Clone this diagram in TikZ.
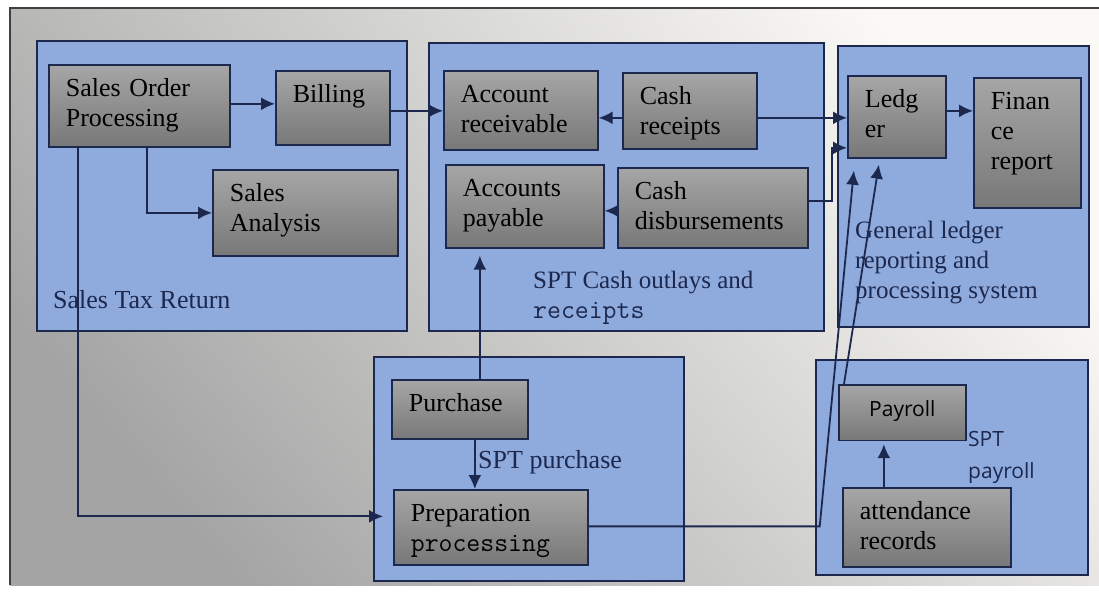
\documentclass[tikz,border=0pt]{standalone}
\usepackage{fontspec}
\setmainfont{Liberation Serif}
\setsansfont{Open Sans}
\usetikzlibrary{arrows.meta}

\definecolor{navy}{RGB}{28,40,78}
\definecolor{grpblue}{RGB}{143,170,220}
\definecolor{boxtop}{RGB}{166,166,166}
\definecolor{boxbot}{RGB}{120,120,120}
\definecolor{bgdark}{RGB}{164,164,164}
\definecolor{bglight}{RGB}{250,249,245}

% lines of a label, first baseline on the anchor
\newcommand{\lblrows}[1]{\begin{tabular}[t]{@{}l@{}}#1\end{tabular}}
\newcommand{\codeword}[1]{{\ttfamily\fontsize{27}{30}\selectfont #1}}

\tikzset{
  grp/.style={draw=navy, line width=1.7pt, fill=grpblue, anchor=north west, inner sep=0pt},
  proc/.style={draw=navy, line width=1.7pt, top color=boxtop, bottom color=boxbot,
    anchor=north west, align=left, inner xsep=17pt, inner ysep=10.5pt, text height=21pt},
  lbl/.style={anchor=base west, inner sep=0pt, text=navy},
  flow/.style={draw=navy, line width=1.8pt, -{Latex[length=14pt,width=13pt]}}
}

\begin{document}
\begin{tikzpicture}[x=1pt, y=-1pt]
    \tikzstyle{every node}=[font=\fontsize{26}{30}\selectfont]
    \useasboundingbox (0,0) rectangle (1099,591);

    % backdrop and frame
    \shade[top color=bglight, bottom color=bgdark, shading angle=-50] (10,8) rectangle (1099,585);
    \draw[line width=1.5pt, draw=black!75] (10,585) -- (10,8) -- (1099,8);

    % subsystems
    \node[grp, minimum width=370pt, minimum height=290pt] (taxgrp) at (36,40) {};
    \node[grp, minimum width=395pt, minimum height=288pt] (cashgrp) at (428,42) {};
    \node[grp, minimum width=251pt, minimum height=281pt] (ledgrp) at (837,45) {};
    \node[grp, minimum width=310pt, minimum height=224pt] (purgrp) at (373,356) {};
    \node[grp, minimum width=272pt, minimum height=215pt] (paygrp) at (815,359) {};

    \node[lbl] (taxlbl) at (53,308) {Sales Tax Return};
    \node[lbl, font=\fontsize{25}{30}\selectfont] (cashlbl) at (533,288)
        {\lblrows{SPT Cash outlays and\\\codeword{receipts}}};
    \node[lbl, font=\fontsize{25}{30}\selectfont] (ledlbl) at (855,238)
        {\lblrows{General ledger\\reporting and\\processing system}};
    \node[lbl] (purlbl) at (478,468) {SPT purchase};
    \node[lbl, font=\sffamily\fontsize{21}{32}\selectfont] (paylbl) at (968,446) {\lblrows{SPT\\payroll}};

    % processes
    \node[proc, text width=147pt, text depth=40pt] (sop) at (48,64) {Sales Order\\Processing};
    \node[proc, text width=80pt, text depth=32pt] (bill) at (275,70) {Billing};
    \node[proc, text width=151pt, text depth=44pt] (sa) at (212,169) {Sales\\Analysis};
    \node[proc, text width=120pt, text depth=37pt] (ar) at (443,70) {Account\\receivable};
    \node[proc, text width=100pt, text depth=34pt] (cr) at (622,72) {Cash\\receipts};
    \node[proc, text width=124pt, text depth=41pt] (ap) at (445,164) {Accounts\\payable};
    \node[proc, text width=156pt, text depth=38pt] (cd) at (617,167) {Cash\\disbursements};
    \node[proc, text width=64pt, text depth=40pt] (led) at (847,75) {Ledg\\er};
    \node[proc, text width=73pt, text depth=88pt] (fin) at (973,77) {Finan\\ce\\report};
    \node[proc, text width=102pt, text depth=17pt] (pur) at (391,379) {Purchase};
    \node[proc, text width=160pt, text depth=33pt] (prep) at (393,489)
        {Preparation\\\codeword{processing}};
    \node[proc, align=center, font=\sffamily\fontsize{21}{30}\selectfont, text height=21.5pt,
        text width=93pt, text depth=13pt] (pay) at (838,384) {Payroll};
    \node[proc, text width=134pt, text depth=37pt] (att) at (842,487) {attendance\\records};

    % flows
    \draw[flow] ([yshift=2pt]sop.east) -- ([yshift=2pt]sop.east -| bill.west);
    \draw[flow] ([xshift=8pt]sop.south) |- (sa.west);
    \draw[flow] ([xshift=-61pt]sop.south) |- ([xshift=-10pt,yshift=11pt]prep.west);
    \draw[flow] ([yshift=-3pt]bill.east) -- ([yshift=-3pt]bill.east -| ar.west);
    \draw[flow] ([yshift=-7pt]cr.west) -- ([yshift=-7pt]cr.west -| ar.east);
    \draw[flow] ([yshift=-3pt]cd.west) -- ([yshift=-3pt]cd.west -| ap.east);
    \draw[flow] ([yshift=-7pt]cr.east) -- ([yshift=-7pt]cr.east -| led.west);
    \draw[flow] ([yshift=7pt]cd.east) -- ++(23,0) |- ([yshift=-31pt]led.west);
    \draw[flow, shorten >=7pt] ([xshift=20pt]pur.north) -- ([xshift=20pt]pur.north |- ap.south);
    \draw[flow] ([xshift=15pt]pur.south) -- ([xshift=15pt]pur.south |- prep.north);
    \draw[flow] ([yshift=1pt]prep.east) -- ++(231,0) -- ([xshift=-43pt,yshift=-12pt]led.south);
    \draw[flow] ([xshift=6pt]pay.north west) -- ([xshift=-18pt,yshift=-6pt]led.south);
    \draw[flow, shorten >=3pt] ([xshift=-43pt]att.north) -- ([xshift=-43pt]att.north |- pay.south);
    \draw[flow] ([yshift=6pt]led.east) -- ([yshift=6pt]led.east -| fin.west);

\end{tikzpicture}
\end{document}
